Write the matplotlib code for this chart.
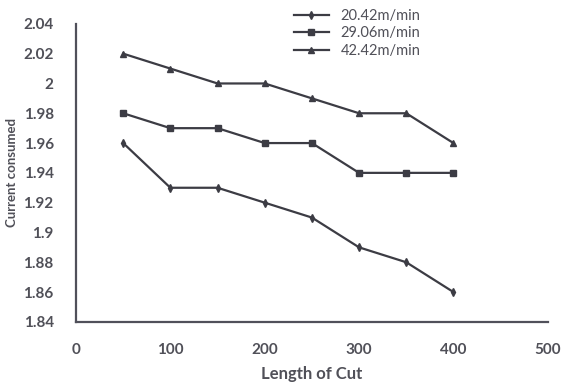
import numpy as np
import matplotlib
matplotlib.use("Agg")
import matplotlib.pyplot as plt

length = [50, 100, 150, 200, 250, 300, 350, 400]
s20 = [1.96, 1.93, 1.93, 1.92, 1.91, 1.89, 1.88, 1.86]
s29 = [1.98, 1.97, 1.97, 1.96, 1.96, 1.94, 1.94, 1.94]
s42 = [2.02, 2.01, 2.00, 2.00, 1.99, 1.98, 1.98, 1.96]
labels = ['20.42m/min', '29.06m/min', '42.42m/min']

plt.rcParams['font.family'] = ['Lato', 'DejaVu Sans']
col = '#3c3c44'
txt = '#505058'

fig = plt.figure(figsize=(5.63, 3.85), dpi=100)
ax = fig.add_axes([0.135, 0.164, 0.838, 0.774])
ax.plot(length, s20, color=col, lw=1.6, marker='d', ms=4, label=labels[0])
ax.plot(length, s29, color=col, lw=1.6, marker='s', ms=4.5, label=labels[1])
ax.plot(length, s42, color=col, lw=1.6, marker='^', ms=4.5, label=labels[2])

ax.set_xlim(0, 500)
ax.set_ylim(1.84, 2.04)
ax.set_xticks([0, 100, 200, 300, 400, 500])
yt = np.round(np.arange(1.84, 2.041, 0.02), 2)
ax.set_yticks(yt)
ax.set_yticklabels([('%g' % v) for v in yt])
ax.tick_params(length=0, labelsize=11, labelcolor=txt)
ax.tick_params(axis='y', pad=16)
ax.tick_params(axis='x', pad=15)
for t in ax.get_xticklabels() + ax.get_yticklabels():
    t.set_fontweight('bold')
for s in ['top', 'right']:
    ax.spines[s].set_visible(False)
for s in ['left', 'bottom']:
    ax.spines[s].set_color('#50505a')
    ax.spines[s].set_linewidth(1.6)

ax.set_xlabel('Length of Cut', fontsize=12, fontweight='bold', color=txt, labelpad=7)
ax.set_ylabel('Current consumed', fontsize=9.5, fontweight='bold', color=txt, labelpad=4)
ax.legend(loc='upper left', bbox_to_anchor=(0.44, 1.085), frameon=False, fontsize=10.5,
          labelcolor=txt, handlelength=2.4, labelspacing=0.25, borderpad=0.2)

fig.savefig('out.png', dpi=100)
